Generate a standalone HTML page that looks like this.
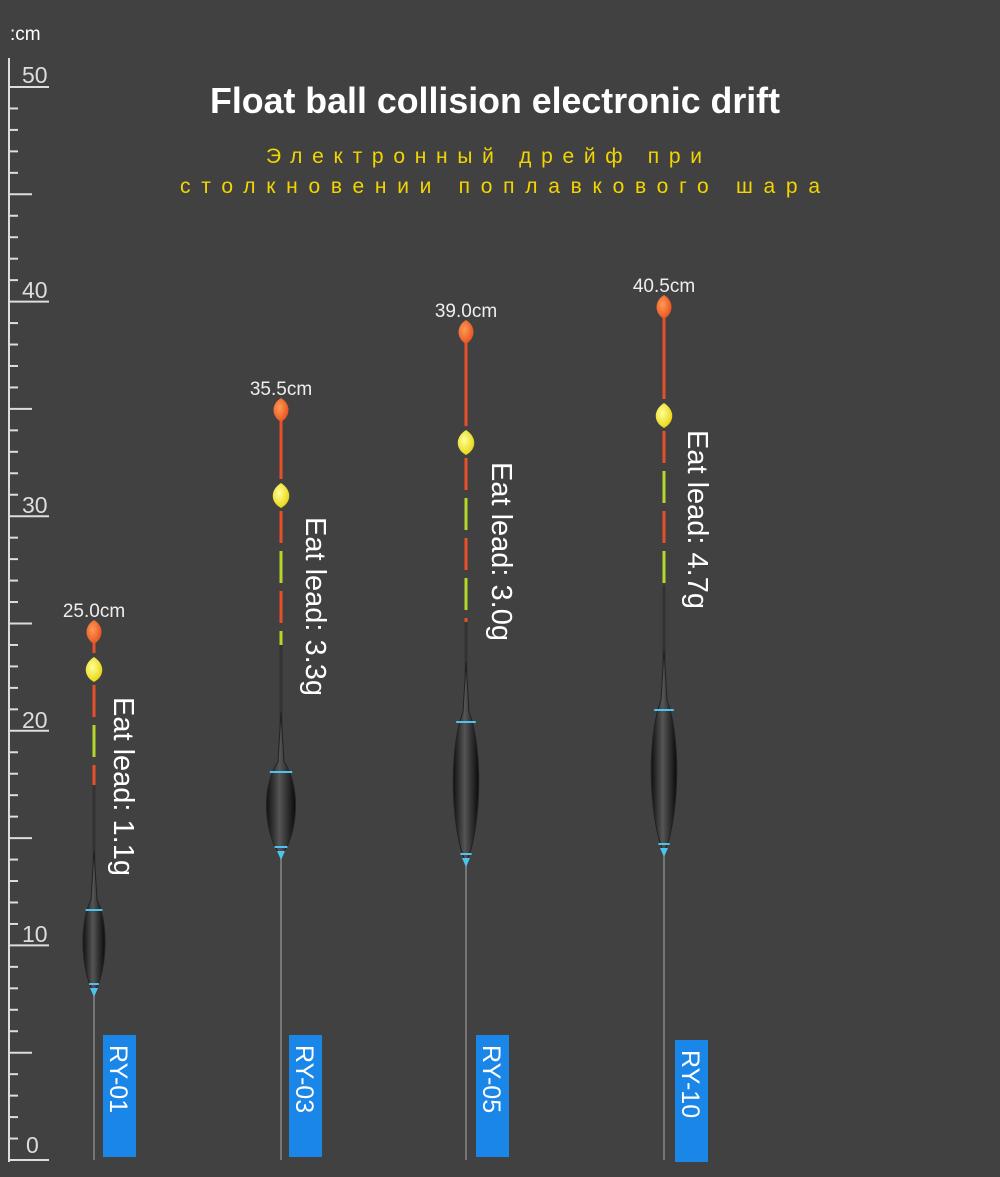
<!DOCTYPE html>
<html><head><meta charset="utf-8"><style>
html,body{margin:0;padding:0;background:#414141;}
svg{display:block}
text{font-family:"Liberation Sans",sans-serif}
</style></head><body>
<svg width="1000" height="1177" viewBox="0 0 1000 1177">
<defs>
<radialGradient id="o" cx="40%" cy="40%" r="70%"><stop offset="0" stop-color="#ff9a55"/><stop offset="1" stop-color="#e34a1a"/></radialGradient>
<radialGradient id="y" cx="40%" cy="40%" r="70%"><stop offset="0" stop-color="#ffff9a"/><stop offset="1" stop-color="#e5d000"/></radialGradient>
<linearGradient id="b" x1="0" x2="1"><stop offset="0" stop-color="#111"/><stop offset=".45" stop-color="#555"/><stop offset="1" stop-color="#0a0a0a"/></linearGradient>
</defs>
<rect width="1000" height="1177" fill="#414141"/>
<text x="10" y="40" fill="#fff" font-size="19">:cm</text>
<g stroke="#ddd" stroke-width="2">
<line x1="9" y1="58" x2="9" y2="1162"/>
</g>
<g id="ruler" stroke="#ddd" stroke-width="2"></g>
<g fill="#ddd" font-size="23">
<text x="22" y="83">50</text><text x="22" y="298">40</text><text x="22" y="513">30</text><text x="22" y="728">20</text><text x="22" y="942">10</text><text x="26" y="1153">0</text>
</g>
<text x="210" y="113" fill="#fff" font-size="36" font-weight="bold" textLength="570" lengthAdjust="spacingAndGlyphs">Float ball collision electronic drift</text>
<text x="266" y="163" fill="#f2d500" font-size="21" textLength="436" lengthAdjust="spacing">Электронный дрейф при</text>
<text x="180" y="193" fill="#f2d500" font-size="21" textLength="640" lengthAdjust="spacing">столкновении поплавкового шара</text>
<g id="floats"></g>
</svg>
<script>
var NS="http://www.w3.org/2000/svg";
function el(p,n,a,t){var e=document.createElementNS(NS,n);for(var k in a)e.setAttribute(k,a[k]);if(t)e.textContent=t;p.appendChild(e);return e;}
var r=document.getElementById('ruler');
for(var c=0;c<=50;c++){var y=1160-c*21.46;var len=c%10==0?40:(c%5==0?23:9);el(r,'line',{x1:9,y1:y,x2:9+len,y2:y});}
var g=document.getElementById('floats');
var F=[
{x:94,tip:620,yel:657,segEnd:785,bt:900,bb:992,bw:24,lab:"25.0cm",tx:124,ty:697,lead:"Eat lead: 1.1g",bx:103,by:1035,name:"RY-01"},
{x:281,tip:398,yel:483,segEnd:645,bt:762,bb:855,bw:32,lab:"35.5cm",tx:316,ty:517,lead:"Eat lead: 3.3g",bx:289,by:1035,name:"RY-03"},
{x:466,tip:320,yel:430,segEnd:622,bt:712,bb:862,bw:28,lab:"39.0cm",tx:502,ty:462,lead:"Eat lead: 3.0g",bx:476,by:1035,name:"RY-05"},
{x:664,tip:295,yel:403,segEnd:585,bt:700,bb:852,bw:28,lab:"40.5cm",tx:698,ty:430,lead:"Eat lead: 4.7g",bx:675,by:1040,name:"RY-10"}];
F.forEach(function(f){
 var x=f.x;
 el(g,'line',{x1:x,y1:f.segEnd,x2:x,y2:1160,stroke:'#888','stroke-width':1.5});
 el(g,'line',{x1:x,y1:f.segEnd,x2:x,y2:f.bt,stroke:'#333','stroke-width':3});
 el(g,'line',{x1:x,y1:f.tip+18,x2:x,y2:f.yel-4,stroke:'#e8502a','stroke-width':3});
 var cols=['#e8502a','#b5d62a'],i=0;
 for(var y=f.yel+28;y<f.segEnd;y+=40){el(g,'line',{x1:x,y1:y,x2:x,y2:Math.min(y+32,f.segEnd),stroke:cols[i%2],'stroke-width':3});i++;}
 el(g,'path',{d:'M'+x+' '+f.tip+' C'+(x+10)+' '+(f.tip+6)+' '+(x+10)+' '+(f.tip+18)+' '+x+' '+(f.tip+24)+' C'+(x-10)+' '+(f.tip+18)+' '+(x-10)+' '+(f.tip+6)+' '+x+' '+f.tip,fill:'url(#o)'});
 el(g,'path',{d:'M'+x+' '+f.yel+' C'+(x+11)+' '+(f.yel+7)+' '+(x+11)+' '+(f.yel+19)+' '+x+' '+(f.yel+25)+' C'+(x-11)+' '+(f.yel+19)+' '+(x-11)+' '+(f.yel+7)+' '+x+' '+f.yel,fill:'url(#y)'});
 var h=f.bb-f.bt,w=f.bw/2;
 el(g,'path',{d:'M'+x+' '+(f.bt-50)+' L'+(x+3)+' '+(f.bt)+' C'+(x+w*1.4)+' '+(f.bt+h*.3)+' '+(x+w*.9)+' '+(f.bb-h*.15)+' '+x+' '+f.bb+' C'+(x-w*.9)+' '+(f.bb-h*.15)+' '+(x-w*1.4)+' '+(f.bt+h*.3)+' '+(x-3)+' '+f.bt+' Z',fill:'url(#b)',stroke:'#222'});
 el(g,'line',{x1:x-w*.7,y1:f.bt+10,x2:x+w*.7,y2:f.bt+10,stroke:'#4cc3f0','stroke-width':2});
 el(g,'line',{x1:x-w*.4,y1:f.bb-8,x2:x+w*.4,y2:f.bb-8,stroke:'#4cc3f0','stroke-width':2});
 el(g,'path',{d:'M'+(x-4)+' '+(f.bb-4)+' L'+(x+4)+' '+(f.bb-4)+' L'+x+' '+(f.bb+5)+' Z',fill:'#4cc3f0'});
 el(g,'text',{x:x,y:f.tip-3,fill:'#eee','font-size':19,'text-anchor':'middle'},f.lab);
 el(g,'text',{x:0,y:0,fill:'#fff','font-size':29,transform:'translate('+(f.tx-10)+','+f.ty+') rotate(90)'},f.lead);
 el(g,'rect',{x:f.bx,y:f.by,width:33,height:122,fill:'#1a86e8'});
 el(g,'text',{x:0,y:0,fill:'#fff','font-size':25,transform:'translate('+(f.bx+7)+','+(f.by+10)+') rotate(90)'},f.name);
});
</script>
</body></html>
